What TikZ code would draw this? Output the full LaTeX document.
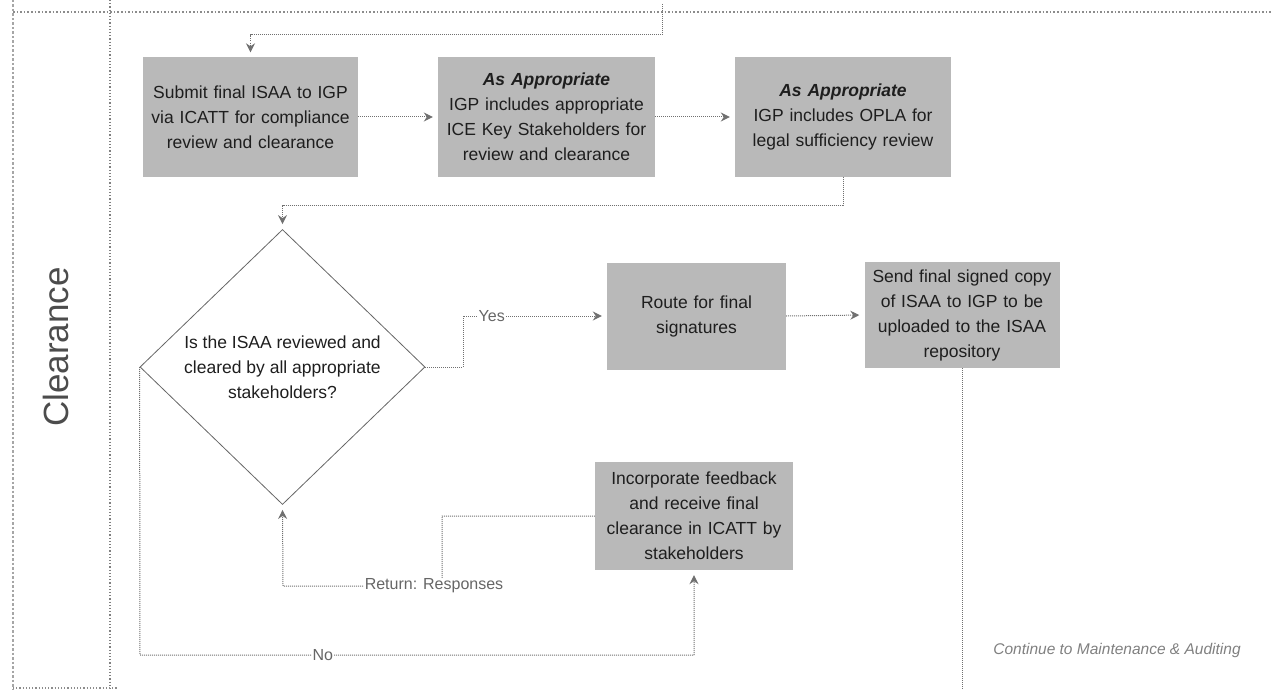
\documentclass[tikz,border=0pt]{standalone}
\usepackage{fontspec}
\setmainfont{Liberation Sans}
\usetikzlibrary{shapes.geometric,arrows.meta}

\definecolor{boxfill}{HTML}{B9B9B9}
\definecolor{boxtext}{HTML}{1E1E1E}
\definecolor{linkgray}{HTML}{707070}
\definecolor{lanegray}{HTML}{808080}

\tikzset{
  stepbox/.style={rectangle, fill=boxfill, inner sep=0pt, align=center,
    text=boxtext, font=\fontsize{17.5}{25}\selectfont},
  decision/.style={diamond, draw=black!60, line width=0.8pt, inner sep=0pt,
    minimum width=285pt, minimum height=275pt},
  qtext/.style={align=center, text=boxtext, font=\fontsize{17.5}{25}\selectfont},
  conn/.style={draw=linkgray, densely dotted, line width=1pt},
  arr/.style={conn, -{Stealth[length=9pt,width=9pt,inset=3pt]}, shorten >=5pt},
  lbl/.style={fill=white, inner sep=1pt, text=black!60, font=\fontsize{16}{18}\selectfont},
}

\begin{document}
\begin{tikzpicture}[x=1pt,y=-1pt]
\useasboundingbox (0,0) rectangle (1271,690);

% swimlane frame
\draw[draw=black!35, dotted, line width=2.5pt] (13,0) -- (13,690);
\draw[draw=lanegray, dotted, line width=1.2pt] (110,0) -- (110,690);
\draw[draw=black!45, dotted, line width=1.6pt] (13,12) -- (1271,12);
\draw[draw=black!45, dotted, line width=1.2pt] (13,688) -- (118,688);
\node[rotate=90, text=black!70, font=\fontsize{35}{40}\selectfont] (lane) at (56,347) {Clearance};

% process steps
\node[stepbox, minimum width=215pt, minimum height=119pt, text width=205pt] (b1) at (250.5,117)
  {Submit final ISAA to IGP\\via ICATT for compliance\\review and clearance};
\node[stepbox, minimum width=217pt, minimum height=119pt, text width=207pt] (b2) at (546.5,117)
  {\textbf{\textit{As Appropriate}}\\IGP includes appropriate\\ICE Key Stakeholders for\\review and clearance};
\node[stepbox, minimum width=216pt, minimum height=119pt, text width=206pt] (b3) at (843,117)
  {\textbf{\textit{As Appropriate}}\\IGP includes OPLA for\\legal sufficiency review};

\node[decision] (d) at (282.5,367) {};
\node[qtext] (dq) at (d.center) {Is the ISAA reviewed and\\cleared by all appropriate\\stakeholders?};

\node[stepbox, minimum width=179pt, minimum height=107pt, text width=170pt] (b5) at (696.5,316)
  {Route for final\\signatures};
\node[stepbox, minimum width=195pt, minimum height=106pt, text width=190pt] (b6) at (962,315)
  {Send final signed copy\\of ISAA to IGP to be\\uploaded to the ISAA\\repository};
\node[stepbox, minimum width=198pt, minimum height=108pt, text width=192pt] (b4) at (694,516)
  {Incorporate feedback\\and receive final\\clearance in ICATT by\\stakeholders};

\node[text=black!50, font=\fontsize{15.5}{18}\selectfont\itshape] (cont) at (1117,650)
  {Continue to Maintenance \& Auditing};

% connectors
\coordinate (inc) at (662,4);
\coordinate (out) at (962,690);
\draw[arr] (inc) -- (662,35) -| (b1.north);
\draw[arr] (b1.east) -- (b2.west);
\draw[arr] (b2.east) -- (b3.west);
\draw[arr] (b3.south) -- (843,205) -| (d.north);
\draw[arr] (d.east) -- (463,367) -- (463,316) -- node[lbl, pos=0.2] (yes) {Yes} (b5.west);
\draw[arr] (b5.east) -- (b6.west);
\draw[conn] (b6.south) -- (out);
\draw[arr] (d.west) -- (140,655) -- node[lbl, pos=0.33] (no) {No} (694,655) -- (b4.south);
\draw[arr] (b4.west) -- (442,516) -- (442,586) -- (283,586) -- (d.south);
\node[lbl] (ret) at (434,586) {Return: Responses};
\end{tikzpicture}
\end{document}
